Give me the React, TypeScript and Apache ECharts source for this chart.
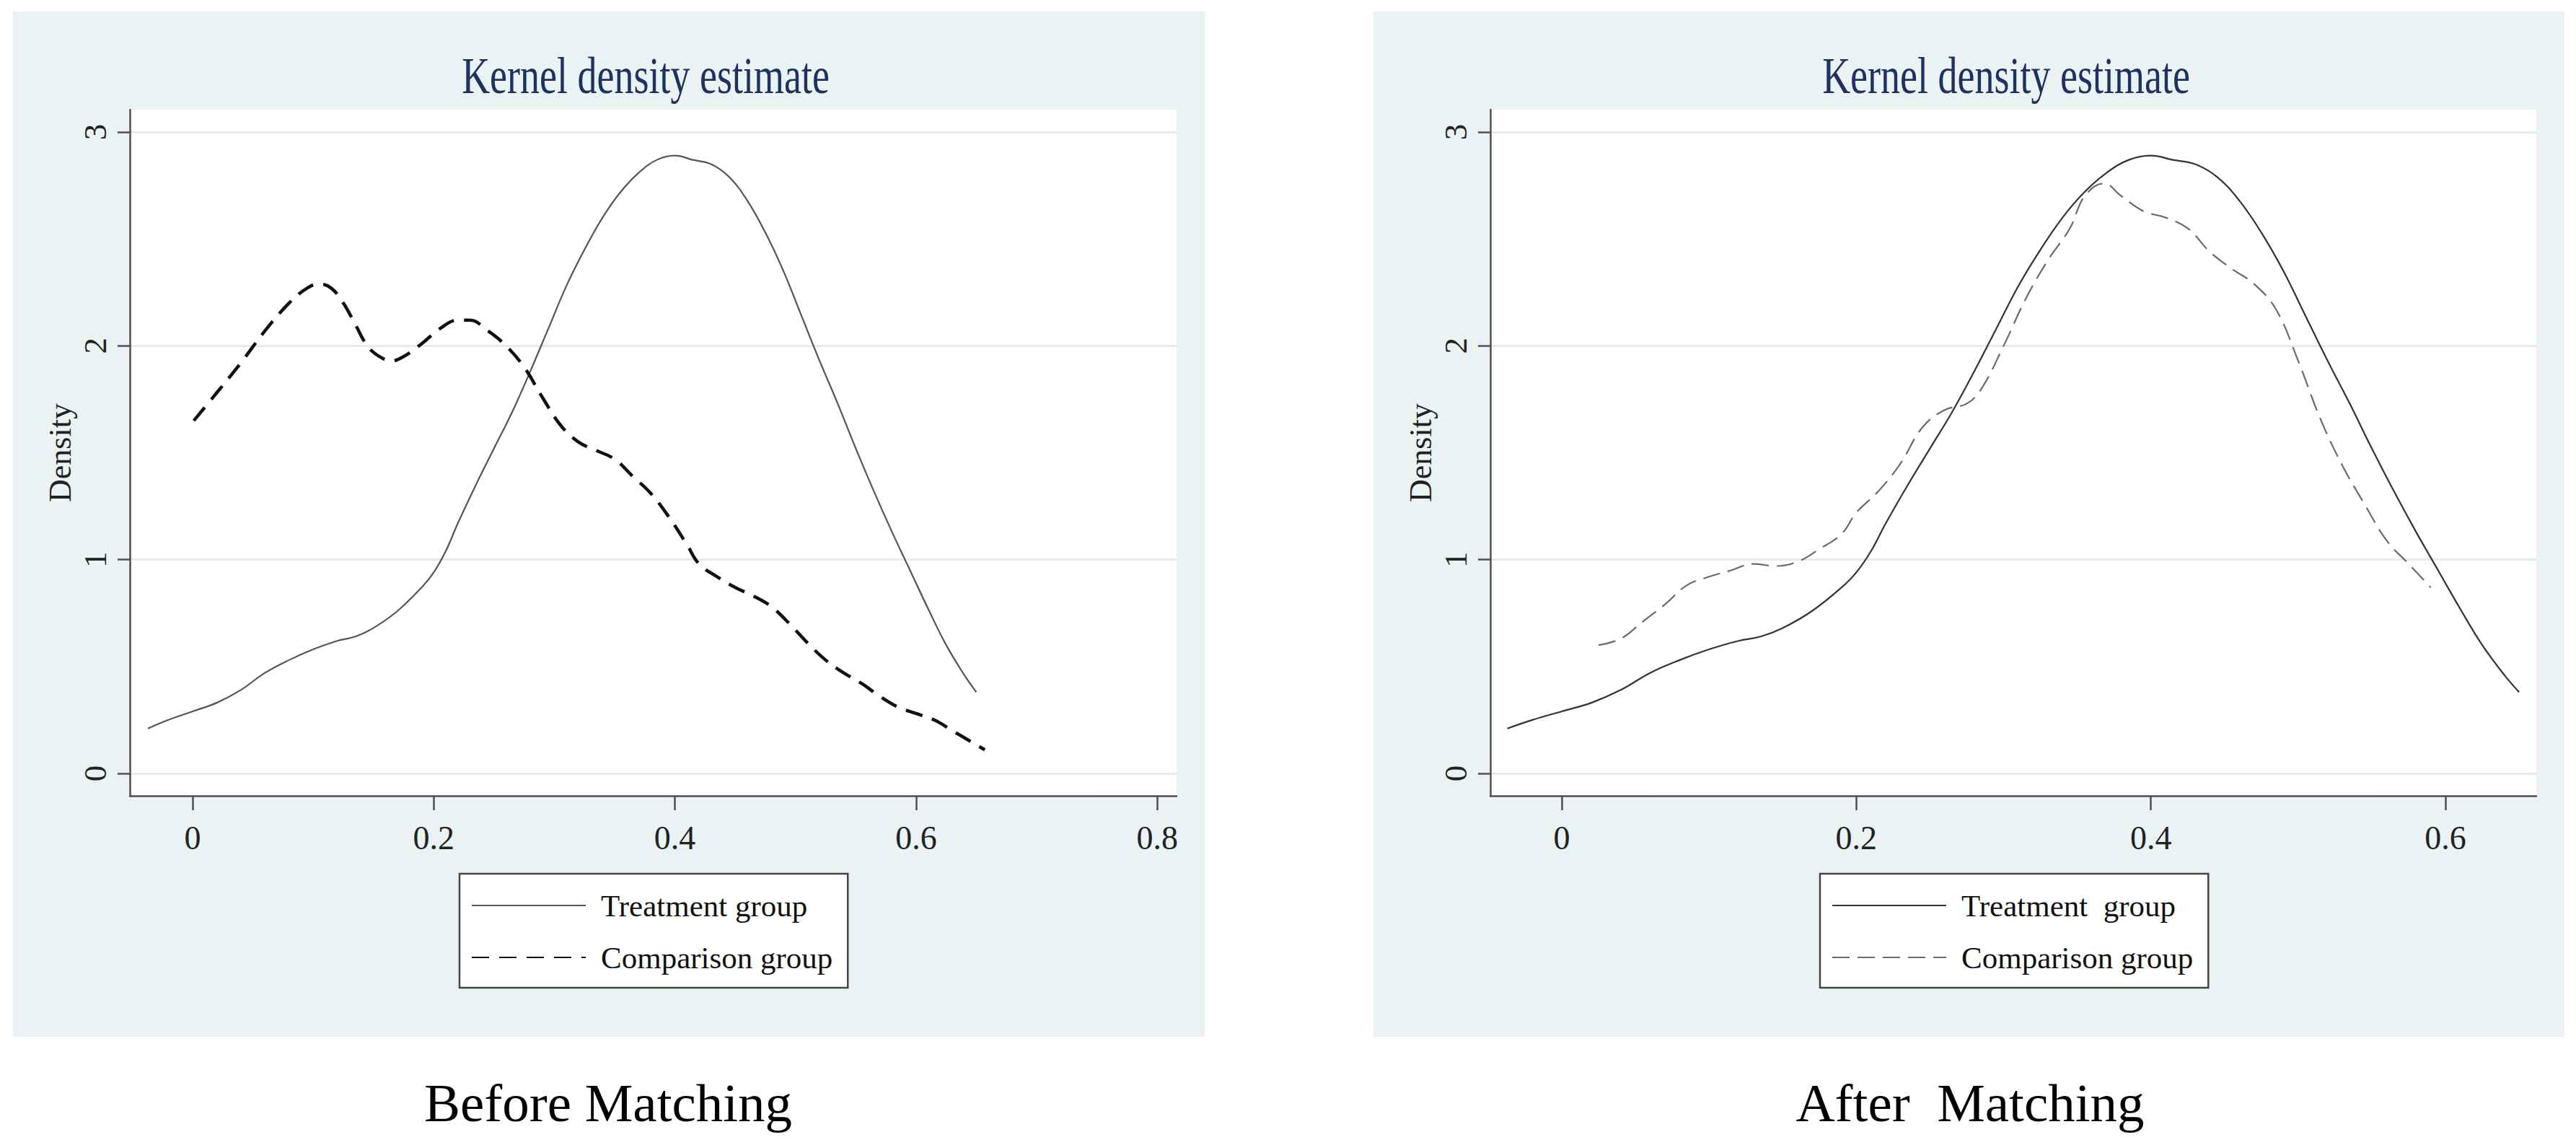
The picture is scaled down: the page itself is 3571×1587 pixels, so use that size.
import React, { useEffect, useRef } from "react";
import * as echarts from "echarts";

// ---------- data ----------
const xTicksBefore = [0, 0.2, 0.4, 0.6, 0.8];
const xTicksAfter = [0, 0.2, 0.4, 0.6];
const yTicks = [0, 1, 2, 3];

const legendBefore = ["Treatment group", "Comparison group"];
const legendAfter = ["Treatment  group", "Comparison group"];

const treatment: [number, number][] = [
  [-0.037, 0.21], [-0.02, 0.25], [0, 0.29], [0.02, 0.33], [0.04, 0.39], [0.06, 0.47],
  [0.08, 0.53], [0.1, 0.58], [0.12, 0.62], [0.135, 0.64], [0.15, 0.68], [0.17, 0.76],
  [0.19, 0.87], [0.2, 0.94], [0.21, 1.04], [0.22, 1.17], [0.235, 1.35], [0.25, 1.52],
  [0.265, 1.69], [0.28, 1.88], [0.295, 2.08], [0.31, 2.28], [0.325, 2.45], [0.34, 2.6],
  [0.355, 2.72], [0.37, 2.81], [0.385, 2.87], [0.4, 2.89], [0.415, 2.87], [0.43, 2.85],
  [0.445, 2.79], [0.46, 2.68], [0.475, 2.53], [0.49, 2.35], [0.505, 2.14], [0.52, 1.93],
  [0.535, 1.73], [0.55, 1.52], [0.565, 1.32], [0.58, 1.13], [0.595, 0.95], [0.61, 0.77],
  [0.625, 0.6], [0.64, 0.46], [0.65, 0.38],
];

const comparisonBefore: [number, number][] = [
  [0.001, 1.65], [0.02, 1.78], [0.04, 1.92], [0.06, 2.07], [0.08, 2.2], [0.095, 2.27],
  [0.105, 2.29], [0.115, 2.27], [0.125, 2.2], [0.135, 2.1], [0.145, 2.0], [0.155, 1.95],
  [0.165, 1.93], [0.175, 1.95], [0.19, 2.01], [0.205, 2.08], [0.22, 2.12], [0.23, 2.12],
  [0.245, 2.07], [0.26, 2.0], [0.275, 1.9], [0.29, 1.76], [0.305, 1.63], [0.32, 1.55],
  [0.335, 1.51], [0.35, 1.47], [0.365, 1.39], [0.38, 1.31], [0.395, 1.2], [0.41, 1.07],
  [0.42, 0.98], [0.435, 0.92], [0.45, 0.87], [0.465, 0.83], [0.48, 0.78], [0.495, 0.7],
  [0.51, 0.61], [0.525, 0.53], [0.54, 0.47], [0.555, 0.42], [0.57, 0.36], [0.585, 0.31],
  [0.6, 0.28], [0.615, 0.25], [0.63, 0.2], [0.645, 0.15], [0.657, 0.11],
];

const comparisonAfter: [number, number][] = [
  [0.025, 0.6], [0.04, 0.63], [0.055, 0.71], [0.07, 0.79], [0.085, 0.88], [0.1, 0.92],
  [0.115, 0.95], [0.13, 0.98], [0.145, 0.97], [0.16, 0.99], [0.175, 1.05], [0.19, 1.12],
  [0.2, 1.22], [0.215, 1.32], [0.23, 1.45], [0.245, 1.62], [0.26, 1.7], [0.275, 1.73],
  [0.285, 1.8], [0.3, 2.0], [0.315, 2.22], [0.33, 2.4], [0.345, 2.55], [0.355, 2.7],
  [0.368, 2.76], [0.38, 2.7], [0.395, 2.63], [0.41, 2.6], [0.425, 2.55], [0.44, 2.44],
  [0.455, 2.36], [0.47, 2.29], [0.485, 2.17], [0.5, 1.93], [0.515, 1.66], [0.53, 1.44],
  [0.545, 1.26], [0.56, 1.09], [0.575, 0.98], [0.59, 0.87],
];

const titleText = "Kernel density estimate";
const yName = "Density";
const captionBefore = "Before Matching";
const captionAfter = "After  Matching";

// ---------- styling ----------
const SERIF = "'Liberation Serif', 'Times New Roman', serif";
const BG = "#eaf2f3";
const AXIS = "#4f4f4f";
const GRIDLINE = "#e2ecef";

function xAxisCfg(gridIndex: number, min: number, max: number, ticks: number[]) {
  return {
    type: "value",
    gridIndex,
    min,
    max,
    axisLine: { show: true, onZero: false, lineStyle: { color: AXIS, width: 2.5 } },
    axisTick: { show: true, customValues: ticks, length: 20, lineStyle: { color: AXIS, width: 2.5 } },
    axisLabel: {
      show: true,
      customValues: ticks,
      margin: 35,
      fontFamily: SERIF,
      fontSize: 46,
      color: "#222",
      formatter: (v: number) => String(v),
    },
    splitLine: { show: false },
  };
}

function yAxisCfg(gridIndex: number) {
  return {
    type: "value",
    gridIndex,
    min: -0.105,
    max: 3.105,
    name: yName,
    nameLocation: "middle",
    nameRotate: 90,
    nameGap: 75,
    nameTextStyle: { fontFamily: SERIF, fontSize: 44, color: "#222" },
    axisLine: { show: true, onZero: false, lineStyle: { color: AXIS, width: 2.5 } },
    axisTick: { show: true, customValues: yTicks, length: 17, lineStyle: { color: AXIS, width: 2.5 } },
    axisLabel: {
      show: true,
      customValues: yTicks,
      rotate: 90,
      margin: 26,
      fontFamily: SERIF,
      fontSize: 45,
      color: "#222",
      formatter: (v: number) => String(v),
    },
    splitLine: { show: true, lineStyle: { color: GRIDLINE, width: 3 } },
  };
}

function legendCfg(left: number, names: string[], labels: string[]) {
  return {
    orient: "vertical",
    left,
    top: 1211,
    padding: [19, 21, 17, 16],
    itemWidth: 158,
    itemHeight: 20,
    itemGap: 22,
    backgroundColor: "#ffffff",
    borderColor: "#444",
    borderWidth: 2.5,
    borderRadius: 0,
    selectedMode: false,
    data: names,
    itemStyle: { opacity: 0, color: "transparent", borderWidth: 0 },
    formatter: (n: string) => labels[names.indexOf(n)] ?? n,
    textStyle: { fontFamily: SERIF, fontSize: 43, color: "#111", lineHeight: 50, padding: [0, 0, 0, 16] },
  };
}

export default function App() {
  const ref = useRef<HTMLDivElement>(null);

  useEffect(() => {
    if (!ref.current) return;
    const chart = echarts.init(ref.current, undefined, { renderer: "svg" });

    const namesBefore = ["before-treatment", "before-comparison"];
    const namesAfter = ["after-treatment", "after-comparison"];

    const option: any = {
      animation: false,
      backgroundColor: "#ffffff",
      grid: [
        { left: 180, top: 152, width: 1451, height: 951, show: true, backgroundColor: "#ffffff", borderWidth: 0 },
        { left: 2066, top: 152, width: 1450, height: 951, show: true, backgroundColor: "#ffffff", borderWidth: 0 },
      ],
      xAxis: [
        xAxisCfg(0, -0.052, 0.816, xTicksBefore),
        xAxisCfg(1, -0.0485, 0.6617, xTicksAfter),
      ],
      yAxis: [yAxisCfg(0), yAxisCfg(1)],
      legend: [legendCfg(637, namesBefore, legendBefore), legendCfg(2523, namesAfter, legendAfter)],
      series: [
        {
          type: "line", name: namesBefore[0], xAxisIndex: 0, yAxisIndex: 0,
          data: treatment, symbol: "none", smooth: 0.4,
          lineStyle: { color: "#555", width: 2.2, type: "solid" },
          itemStyle: { color: "#555" },
        },
        {
          type: "line", name: namesBefore[1], xAxisIndex: 0, yAxisIndex: 0,
          data: comparisonBefore, symbol: "none", smooth: 0.4,
          lineStyle: { color: "#111", width: 4.5, type: [24, 14] },
          itemStyle: { color: "#111" },
        },
        {
          type: "line", name: namesAfter[0], xAxisIndex: 1, yAxisIndex: 1,
          data: treatment, symbol: "none", smooth: 0.4,
          lineStyle: { color: "#333", width: 2.2, type: "solid" },
          itemStyle: { color: "#333" },
        },
        {
          type: "line", name: namesAfter[1], xAxisIndex: 1, yAxisIndex: 1,
          data: comparisonAfter, symbol: "none", smooth: 0.4,
          lineStyle: { color: "#6a6a6a", width: 2.2, type: [24, 11] },
          itemStyle: { color: "#6a6a6a" },
        },
      ],
      graphic: [
        { type: "rect", z: -10, shape: { x: 18, y: 16, width: 1652, height: 1421 }, style: { fill: BG } },
        { type: "rect", z: -10, shape: { x: 1904, y: 16, width: 1651, height: 1421 }, style: { fill: BG } },
        {
          type: "text", x: 895, y: 105, scaleX: 0.75, z: 10,
          style: {
            text: titleText, fontFamily: SERIF, fontSize: 72, fill: "#1f3160",
            align: "center", verticalAlign: "middle", textAlign: "center", textVerticalAlign: "middle",
          },
        },
        {
          type: "text", x: 2781, y: 105, scaleX: 0.75, z: 10,
          style: {
            text: titleText, fontFamily: SERIF, fontSize: 72, fill: "#1f3160",
            align: "center", verticalAlign: "middle", textAlign: "center", textVerticalAlign: "middle",
          },
        },
        {
          type: "text", x: 843, y: 1528, z: 10,
          style: {
            text: captionBefore, fontFamily: SERIF, fontSize: 75, fill: "#000",
            align: "center", verticalAlign: "middle", textAlign: "center", textVerticalAlign: "middle",
          },
        },
        {
          type: "text", x: 2731, y: 1528, z: 10,
          style: {
            text: captionAfter, fontFamily: SERIF, fontSize: 75, fill: "#000",
            align: "center", verticalAlign: "middle", textAlign: "center", textVerticalAlign: "middle",
          },
        },
      ],
    };

    chart.setOption(option);
    return () => chart.dispose();
  }, []);

  return (
    <div
      ref={ref}
      style={{ position: "absolute", left: 0, top: 0, width: 3571, height: 1587, background: "#fff" }}
    />
  );
}
